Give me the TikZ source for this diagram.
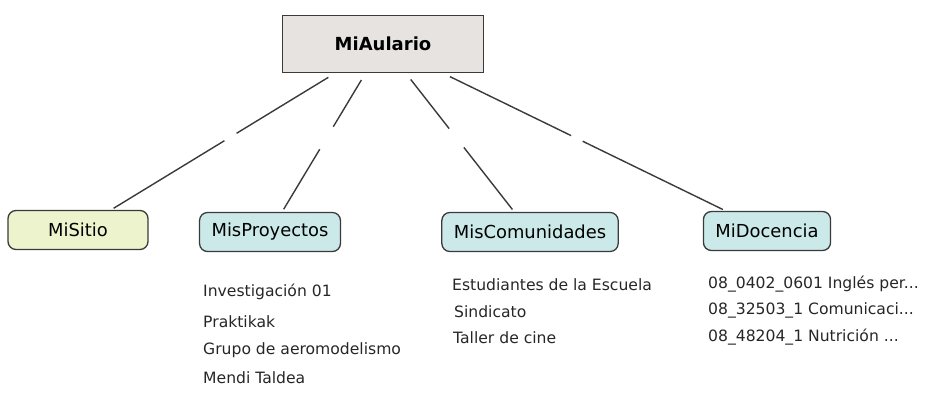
\documentclass[tikz,border=0pt]{standalone}
\usepackage{fontspec}
\setmainfont{DejaVu Sans}
\usepackage{xcolor}
\usepackage{tikz}
\usetikzlibrary{calc}
\definecolor{rootfill}{HTML}{E6E3E0}
\definecolor{sitefill}{HTML}{EDF4CD}
\definecolor{topicfill}{HTML}{CBE9E9}
\definecolor{edge}{HTML}{3A3A3A}
\tikzstyle{root} = [rectangle, minimum width=201pt, minimum height=57pt, text centered, draw=edge, line width=1.3pt, fill=rootfill, font=\fontsize{18}{21}\selectfont\bfseries]
\tikzstyle{topic} = [rectangle, rounded corners=8pt, minimum height=39pt, inner xsep=12pt, text centered, draw=edge, line width=1.3pt, fill=topicfill, font=\fontsize{17.9}{21}\selectfont]
\tikzstyle{item} = [anchor=west, inner sep=0pt, font=\fontsize{15.6}{18}\selectfont, text=black!85]
\tikzstyle{link} = [draw=edge, line width=1.4pt]

\begin{document}
\begin{tikzpicture}[x=1pt,y=-1pt]
	\useasboundingbox (0,0) rectangle (926,402);

	\node (aulario) [root] at (383,44) {MiAulario};
	\node (sitio) [topic, fill=sitefill, minimum width=140pt] at (78,230) {MiSitio};
	\node (proyectos) [topic] at (270,232) {MisProyectos};
	\node (comunidades) [topic] at (530,232) {MisComunidades};
	\node (docencia) [topic] at (767,231) {MiDocencia};

	% connectors, each broken in the middle
	\draw [link, shorten <=8pt] (aulario) -- ($(aulario)!0.48!(sitio)$);
	\draw [link, shorten >=3pt] ($(aulario)!0.52!(sitio)$) -- (sitio);
	\draw [link, shorten <=8pt] (aulario) -- ($(aulario)!0.44!(proyectos)$);
	\draw [link, shorten >=3pt] ($(aulario)!0.56!(proyectos)$) -- (proyectos);
	\draw [link, shorten <=8pt] (aulario) -- ($(aulario)!0.45!(comunidades)$);
	\draw [link, shorten >=3pt] ($(aulario)!0.55!(comunidades)$) -- (comunidades);
	\draw [link, shorten <=8pt] (aulario) -- ($(aulario)!0.49!(docencia)$);
	\draw [link, shorten >=3pt] ($(aulario)!0.52!(docencia)$) -- (docencia);

	\node (inv) [item] at (203,292) {Investigación 01};
	\node (prak) [item] at (203,322) {Praktikak};
	\node (aero) [item] at (203,350) {Grupo de aeromodelismo};
	\node (mendi) [item] at (203,378) {Mendi Taldea};

	\node (estud) [item] at (452,285) {Estudiantes de la Escuela};
	\node (sindi) [item] at (454,312) {Sindicato};
	\node (taller) [item] at (453,338) {Taller de cine};

	\node (ingles) [item] at (708,284) {08\_0402\_0601 Inglés per...};
	\node (comun) [item] at (708,310) {08\_32503\_1 Comunicaci...};
	\node (nutri) [item] at (708,337) {08\_48204\_1 Nutrición ...};

\end{tikzpicture}
\end{document}
